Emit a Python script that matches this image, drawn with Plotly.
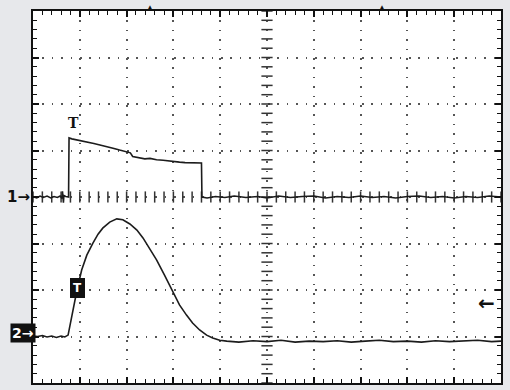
import numpy as np
import plotly.graph_objects as go

# screen is 10 x 8 divisions; values below are in divisions
ch1_t = [0.00, 0.08, 0.15, 0.22, 0.30, 0.38, 0.45, 0.52, 0.58, 0.62, 0.63, 0.65, 0.66, 0.70, 0.76,
         0.77, 0.83, 0.94, 1.05, 1.17, 1.30, 1.43, 1.57, 1.71, 1.85, 1.98, 2.08, 2.13, 2.25, 2.39,
         2.50, 2.64, 2.78, 2.92, 3.02, 3.13, 3.25, 3.35, 3.48, 3.60, 3.61, 3.72, 3.90, 4.10, 4.30,
         4.55, 4.80, 5.00, 5.25, 5.50, 5.75, 6.00, 6.25, 6.50, 6.75, 7.00, 7.25, 7.50, 7.75, 8.00,
         8.25, 8.50, 8.75, 9.00, 9.25, 9.50, 9.75, 10.00]
ch1_v = [0.01, -0.02, 0.02, -0.01, 0.02, -0.02, 0.01, -0.01, 0.02, -0.03, 0.12, -0.12, 0.03, 0.01, 0.00,
         1.27, 1.25, 1.23, 1.21, 1.18, 1.15, 1.12, 1.09, 1.05, 1.01, 0.97, 0.95, 0.87, 0.85, 0.82,
         0.83, 0.80, 0.79, 0.77, 0.77, 0.75, 0.74, 0.74, 0.73, 0.73, 0.00, -0.02, 0.01, -0.01, 0.02,
         -0.01, 0.01, -0.02, 0.02, -0.01, 0.01, 0.02, -0.02, 0.01, -0.01, 0.02, -0.01, 0.01, -0.02,
         0.01, 0.02, -0.01, 0.01, -0.02, 0.01, -0.01, 0.02, 0.00]

ch2_t = [0.00, 0.10, 0.20, 0.30, 0.40, 0.50, 0.60, 0.68, 0.75, 0.83, 0.94, 1.04, 1.15, 1.28,
         1.39, 1.49, 1.64, 1.79, 1.92, 2.07, 2.22, 2.35, 2.49, 2.64, 2.81, 2.99, 3.13, 3.28,
         3.41, 3.56, 3.71, 3.84, 3.99, 4.14, 4.40, 4.70, 5.00, 5.30, 5.60, 5.90, 6.20, 6.50,
         6.80, 7.10, 7.40, 7.70, 8.00, 8.30, 8.60, 8.90, 9.20, 9.50, 9.80, 10.00]
ch2_v = [-2.99, -3.00, -2.98, -3.01, -2.99, -3.02, -2.99, -3.01, -2.97, -2.54, -2.00, -1.57, -1.25, -0.99,
         -0.80, -0.67, -0.54, -0.47, -0.49, -0.58, -0.71, -0.88, -1.12, -1.35, -1.68, -2.04, -2.32, -2.54,
         -2.71, -2.86, -2.97, -3.03, -3.08, -3.10, -3.12, -3.09, -3.11, -3.08, -3.12, -3.10, -3.11, -3.09,
         -3.12, -3.10, -3.08, -3.11, -3.10, -3.12, -3.09, -3.11, -3.10, -3.08, -3.11, -3.10]

ink = '#1c1c1c'
bg = '#e7e8eb'
fig = go.Figure()

# tick marks across the centre axes
minor = np.round(np.arange(0, 10.001, 0.2), 2)
minor_y = np.round(np.arange(-4, 4.001, 0.2), 2)
fig.add_trace(go.Scatter(x=minor, y=[0] * len(minor), mode='markers', hoverinfo='skip',
                         marker=dict(symbol='line-ns', size=8, line=dict(width=1.5, color='#333'))))
fig.add_trace(go.Scatter(x=[5] * len(minor_y), y=minor_y, mode='markers', hoverinfo='skip',
                         marker=dict(symbol='line-ew', size=8, line=dict(width=1.5, color='#333'))))

fig.add_trace(go.Scatter(x=ch1_t, y=ch1_v, mode='lines', line=dict(color=ink, width=1.6)))
fig.add_trace(go.Scatter(x=ch2_t, y=ch2_v, mode='lines', line=dict(color=ink, width=1.6)))

axis = dict(showgrid=True, gridcolor='#555', gridwidth=1.5, griddash='1.5px,7.9px',
            zeroline=False, showline=True, linecolor='#111', linewidth=2, mirror='allticks',
            ticks='inside', ticklen=6, tickcolor='#111', tickwidth=1.5, showticklabels=False,
            minor=dict(ticks='inside', ticklen=4, tickcolor='#111', tickwidth=1.2, dtick=0.2))
fig.update_xaxes(axis, range=[0, 10], dtick=1, tick0=0)
fig.update_yaxes(axis, range=[-4, 4], dtick=1, tick0=0)

fig.add_annotation(x=0, y=0, xref='x', yref='y', text='<b>1→</b>', showarrow=False,
                   xanchor='right', xshift=-1, font=dict(size=15, color='#111', family='DejaVu Sans'))
fig.add_annotation(x=0, y=-2.93, xref='x', yref='y', text='<b>2→</b>', showarrow=False,
                   xanchor='right', xshift=3, bgcolor='#111', borderpad=1,
                   font=dict(size=14, color='white', family='DejaVu Sans'))
fig.add_annotation(x=0.86, y=1.59, xref='x', yref='y', text='<b>T</b>', showarrow=False,
                   font=dict(size=14, color='#111', family='DejaVu Serif'))
fig.add_annotation(x=0.96, y=-1.96, xref='x', yref='y', text='<b>T</b>', showarrow=False,
                   bgcolor='#111', bordercolor='#111', borderwidth=1, borderpad=2,
                   font=dict(size=12, color='white', family='DejaVu Sans'))
fig.add_annotation(x=9.68, y=-2.28, xref='x', yref='y', text='<b>←</b>', showarrow=False,
                   font=dict(size=20, color='#111', family='DejaVu Sans'))
for tx in [2.49, 7.46]:
    fig.add_annotation(x=tx, y=4, xref='x', yref='y', text='▲', showarrow=False,
                       yanchor='bottom', yshift=-3, font=dict(size=8, color='#111'))

fig.update_layout(width=510, height=390, showlegend=False,
                  margin=dict(l=33, r=9, t=11, b=7),
                  paper_bgcolor=bg, plot_bgcolor='white')
fig.write_html("out.html", config={'displayModeBar': False},
               post_script="document.body.style.margin='0';document.body.style.background='%s';" % bg)
